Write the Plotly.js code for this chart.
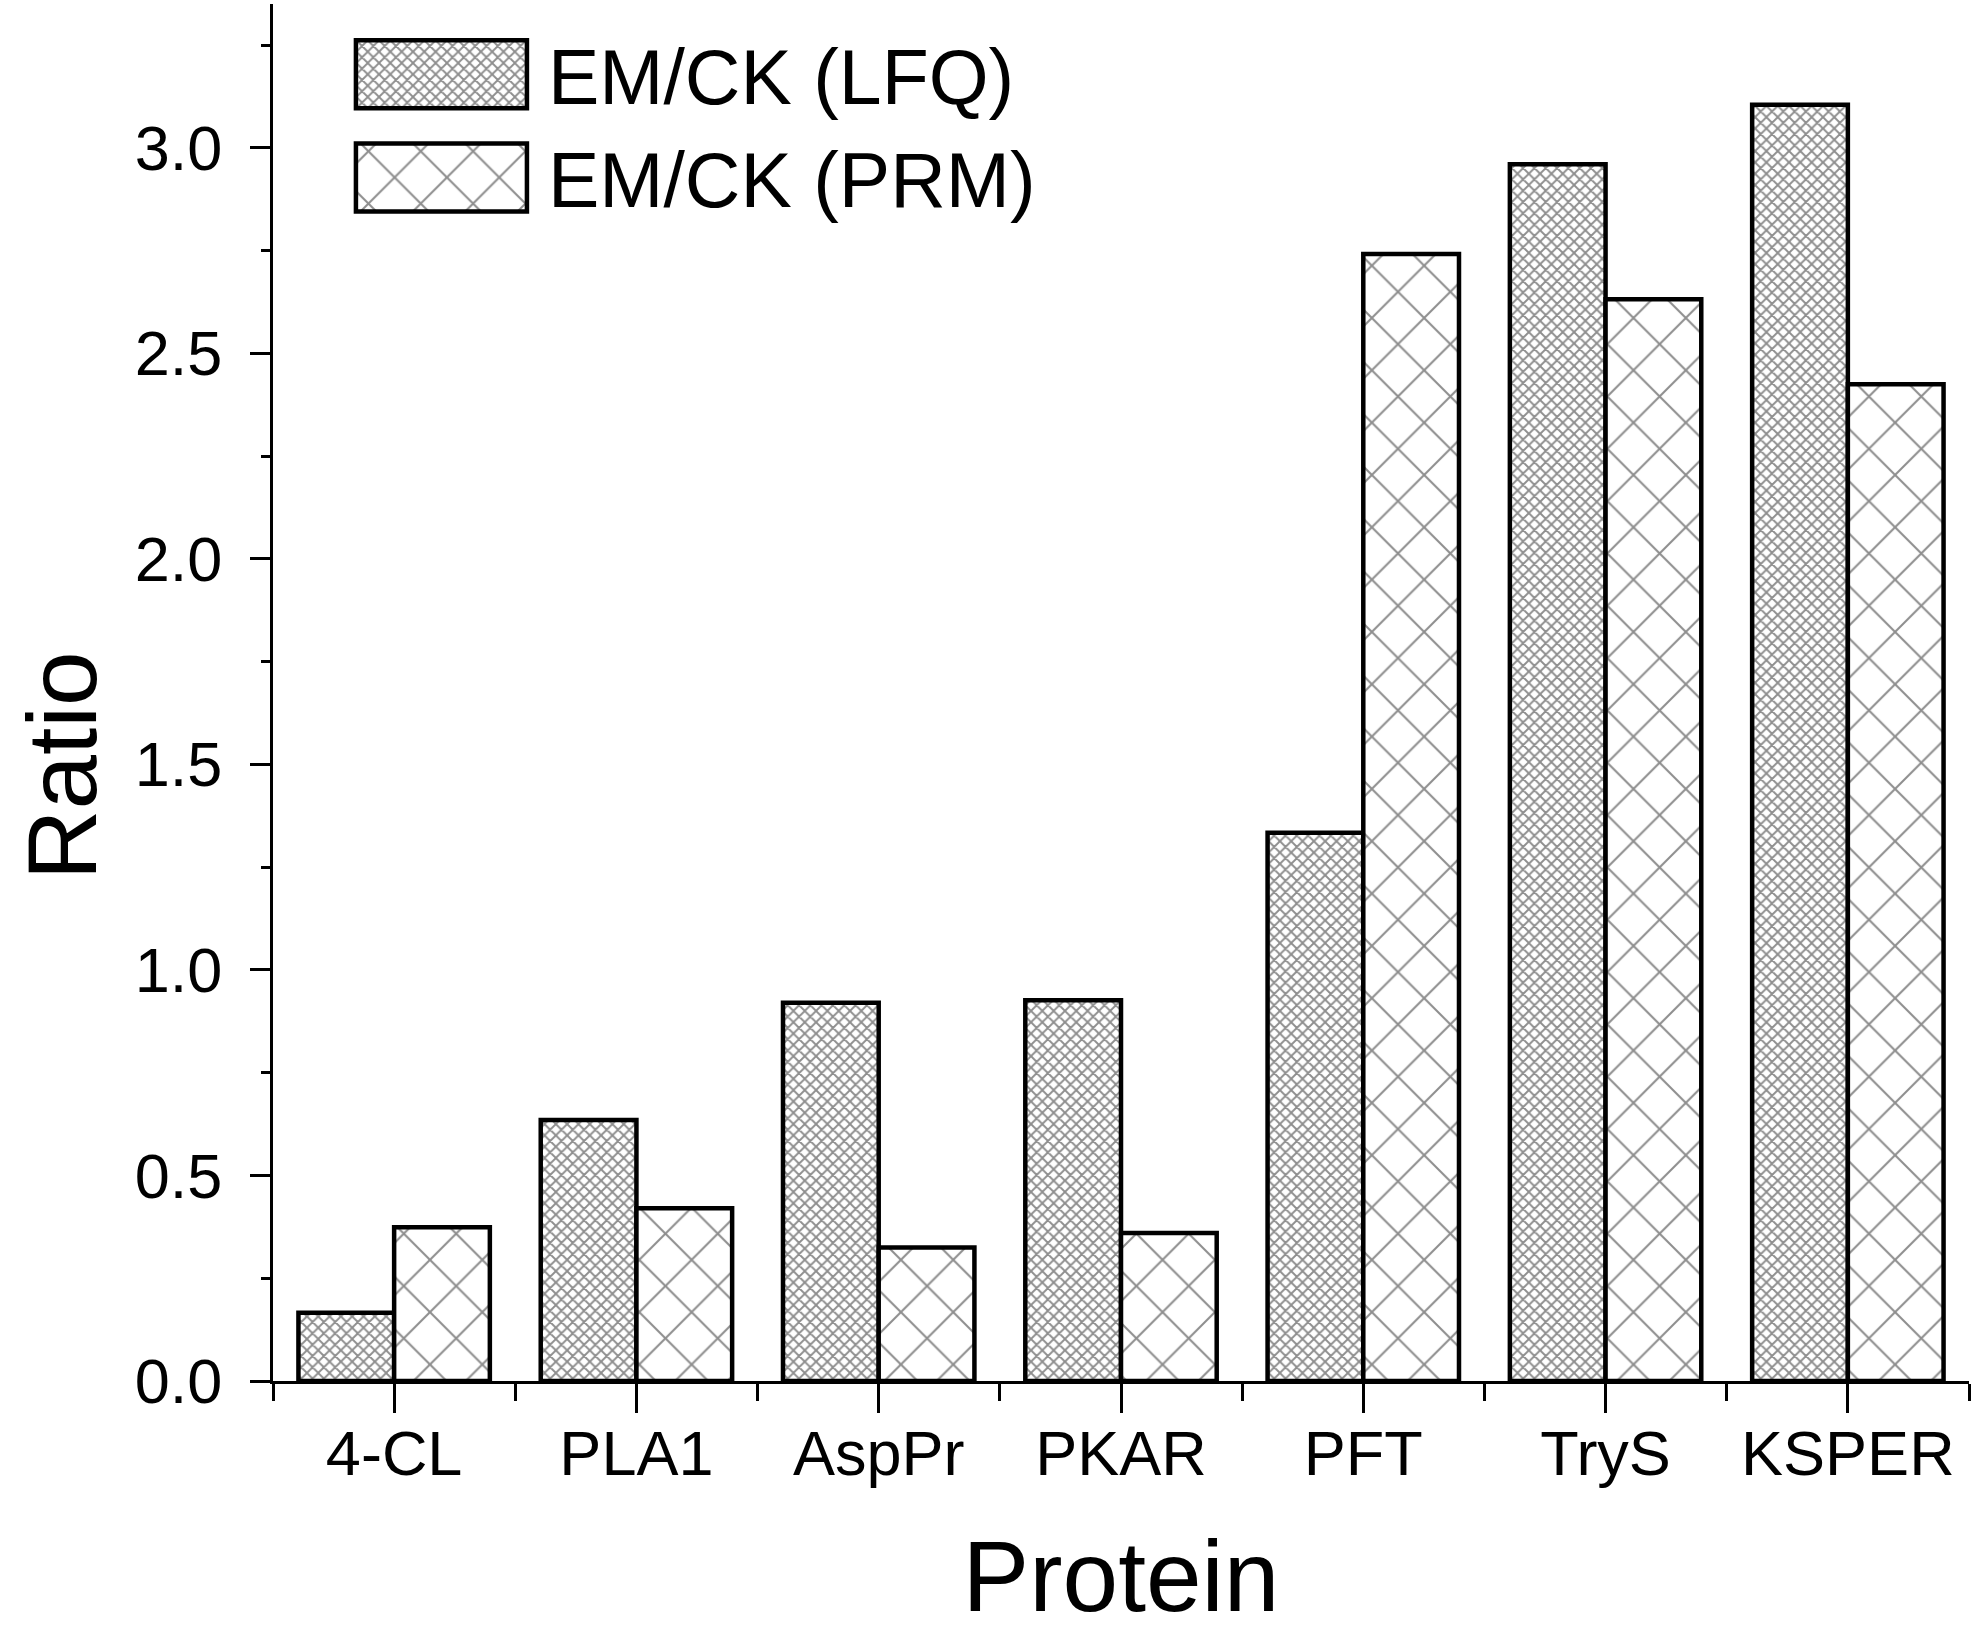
<!DOCTYPE html>
<html>
<head>
<meta charset="utf-8">
<script src="https://cdn.plot.ly/plotly-3.0.1.min.js"></script>
<style>
  body { margin: 0; background: #fff; }
</style>
</head>
<body>
<div id="chart" style="width:1975px;height:1650px"></div>
<script>
// values
const proteins = ['4-CL', 'PLA1', 'AspPr', 'PKAR', 'PFT', 'TryS', 'KSPER'];
const lfqRatio = [0.166, 0.635, 0.92, 0.926, 1.334, 2.96, 3.105];
const prmRatio = [0.374, 0.42, 0.325, 0.36, 2.742, 2.632, 2.425];
const seriesNames = ['EM/CK (LFQ)', 'EM/CK (PRM)'];

const font = 'Liberation Sans, Arial, sans-serif';
const positions = proteins.map((p, i) => i);
const boundaries = proteins.map((p, i) => i - 0.5).concat([proteins.length - 0.5]);

function barTrace(name, values, patternSize, solidity) {
  return {
    type: 'bar',
    name: name,
    x: positions,
    y: values,
    marker: {
      color: '#ffffff',
      line: {color: '#000', width: 4.5},
      pattern: {shape: 'x', size: patternSize, solidity: solidity, fgcolor: '#1e1e1e', fillmode: 'overlay'}
    }
  };
}

const data = [
  barTrace(seriesNames[0], lfqRatio, 8, 0.42),
  barTrace(seriesNames[1], prmRatio, 37, 0.11)
];

const layout = {
  width: 1975,
  height: 1650,
  margin: {l: 273, r: 6, t: 4, b: 269},
  paper_bgcolor: '#fff',
  plot_bgcolor: '#fff',
  font: {family: font, color: '#000'},
  barmode: 'group',
  bargap: 0.21,
  bargroupgap: 0,
  showlegend: true,
  legend: {
    x: 0.043, y: 0.99, xanchor: 'left', yanchor: 'top',
    font: {family: font, size: 77, color: '#000'},
    itemwidth: 192,
    bgcolor: 'rgba(0,0,0,0)',
    traceorder: 'normal'
  },
  xaxis: {
    range: [-0.5, proteins.length - 0.5],
    tickmode: 'array',
    tickvals: positions,
    ticktext: proteins,
    ticks: 'outside', ticklen: 29, tickwidth: 3, tickcolor: '#000',
    minor: {tickmode: 'array', tickvals: boundaries, ticks: 'outside', ticklen: 17, tickwidth: 3, tickcolor: '#000'},
    ticklabelstandoff: -14,
    tickfont: {family: font, size: 63, color: '#000'},
    showline: true, linecolor: '#000', linewidth: 3,
    showgrid: false, zeroline: false,
    title: {text: 'Protein', font: {family: font, size: 100, color: '#000'}, standoff: 55}
  },
  yaxis: {
    range: [0, 3.35],
    dtick: 0.5, tick0: 0, tickformat: '.1f',
    ticks: 'outside', ticklen: 20, tickwidth: 3, tickcolor: '#000',
    minor: {dtick: 0.25, ticks: 'outside', ticklen: 9, tickwidth: 3, tickcolor: '#000'},
    ticklabelstandoff: 15,
    tickfont: {family: font, size: 63, color: '#000'},
    showline: true, linecolor: '#000', linewidth: 3,
    showgrid: false, zeroline: false
  },
  annotations: [{
    text: 'Ratio', textangle: -90,
    xref: 'paper', yref: 'paper', x: -0.124, y: 0.447,
    xanchor: 'center', yanchor: 'middle', showarrow: false,
    font: {family: font, size: 98, color: '#000'}
  }]
};

// make the legend swatches big like the original and reuse the bar patterns
function bigSwatches(gd) {
  const barPaths = gd.querySelectorAll('.barlayer .trace');
  gd.querySelectorAll('.legend .traces').forEach((item, i) => {
    const sw = item.querySelector('path.legendbar') || item.querySelector('.legendpoints path');
    const txt = item.querySelector('text.legendtext');
    if (!sw || !txt) return;
    const m = sw.getCTM(), t = txt.getCTM();
    const textX = parseFloat(txt.getAttribute('x') || 0) + (t.e - m.e);
    const right = textX - 21, left = right - 171;
    sw.setAttribute('d', `M${right},34H${left}V-34H${right}Z`);
    const src = barPaths[i] && barPaths[i].querySelector('path');
    if (src) sw.style.fill = src.style.fill;
    sw.style.stroke = '#000';
    sw.style.strokeWidth = '4.5px';
  });
}

Plotly.newPlot('chart', data, layout, {staticPlot: true}).then(bigSwatches);
</script>
</body>
</html>
